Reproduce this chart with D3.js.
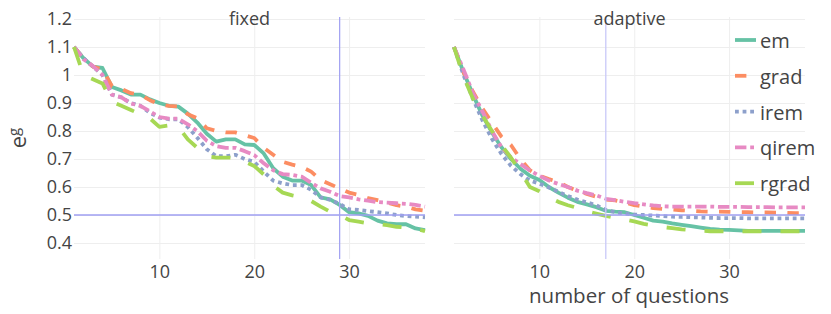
<!DOCTYPE html>
<html>
<head>
<meta charset="utf-8">
<script src="https://cdn.jsdelivr.net/npm/d3@7"></script>
<style>
  body { margin: 0; background: #fff; }
  text { font-family: "Open Sans", sans-serif; fill: #444; }
</style>
</head>
<body>
<div class="canvas"></div>
<script>
// data
const questions = [1, 2, 3, 4, 5, 6, 7, 8, 9, 10, 11, 12, 13, 14, 15, 16, 17, 18, 19, 20,
    21, 22, 23, 24, 25, 26, 27, 28, 29, 30, 31, 32, 33, 34, 35, 36, 37, 38];
const methods = ['em', 'grad', 'irem', 'qirem', 'rgrad'];
const panelNames = ['fixed', 'adaptive'];
const cutoffs = [29, 17];
const threshold = 0.5;
const yTicks = [0.4, 0.5, 0.6, 0.7, 0.8, 0.9, 1, 1.1, 1.2];
const xTicks = [10, 20, 30];

const fixedEm = [1.1, 1.06, 1.03, 1.025, 0.957, 0.945, 0.93, 0.93, 0.913, 0.9, 0.89, 0.887, 0.862, 0.83,
    0.79, 0.762, 0.77, 0.77, 0.752, 0.75, 0.72, 0.667, 0.637, 0.623, 0.623, 0.607, 0.563, 0.556, 0.536,
    0.51, 0.506, 0.497, 0.48, 0.47, 0.467, 0.467, 0.452, 0.446];
const fixedGrad = [1.1, 1.06, 1.03, 1.02, 0.96, 0.95, 0.935, 0.93, 0.91, 0.895, 0.89, 0.888, 0.86, 0.845,
    0.81, 0.8, 0.795, 0.795, 0.785, 0.775, 0.74, 0.715, 0.69, 0.68, 0.672, 0.655, 0.625, 0.61, 0.595,
    0.58, 0.572, 0.56, 0.553, 0.545, 0.535, 0.53, 0.52, 0.515];
const fixedIrem = [1.1, 1.06, 1.03, 1.0, 0.93, 0.92, 0.9, 0.89, 0.865, 0.848, 0.842, 0.842, 0.814, 0.776,
    0.735, 0.71, 0.71, 0.715, 0.7, 0.69, 0.655, 0.623, 0.613, 0.607, 0.607, 0.59, 0.563, 0.554, 0.54,
    0.52, 0.518, 0.514, 0.51, 0.506, 0.5, 0.496, 0.494, 0.492];
const fixedQirem = [1.1, 1.056, 1.032, 1.0, 0.93, 0.92, 0.898, 0.89, 0.87, 0.85, 0.844, 0.844, 0.824, 0.8,
    0.765, 0.746, 0.74, 0.74, 0.728, 0.714, 0.685, 0.66, 0.646, 0.643, 0.637, 0.615, 0.595, 0.583, 0.568,
    0.563, 0.556, 0.551, 0.546, 0.544, 0.542, 0.54, 0.536, 0.53];
const fixedRgrad = [1.1, 1.0, 0.985, 0.97, 0.905, 0.89, 0.875, 0.86, 0.845, 0.815, 0.82, 0.815, 0.77, 0.74,
    0.71, 0.705, 0.705, 0.705, 0.69, 0.675, 0.645, 0.605, 0.58, 0.57, 0.563, 0.55, 0.53, 0.512, 0.5,
    0.482, 0.476, 0.47, 0.468, 0.464, 0.458, 0.455, 0.452, 0.442];

const adaptiveEm = [1.1, 1.01, 0.93, 0.855, 0.795, 0.742, 0.7, 0.665, 0.64, 0.625, 0.6, 0.58, 0.562, 0.547,
    0.538, 0.528, 0.515, 0.512, 0.51, 0.5, 0.49, 0.48, 0.476, 0.47, 0.465, 0.46, 0.455, 0.45, 0.448,
    0.447, 0.445, 0.443, 0.443, 0.443, 0.443, 0.443, 0.443, 0.443];
const adaptiveGrad = [1.1, 1.01, 0.94, 0.88, 0.83, 0.78, 0.75, 0.7, 0.66, 0.64, 0.628, 0.618, 0.6, 0.587,
    0.575, 0.565, 0.555, 0.552, 0.545, 0.535, 0.53, 0.525, 0.522, 0.52, 0.517, 0.515, 0.513, 0.512, 0.512,
    0.511, 0.51, 0.51, 0.509, 0.509, 0.508, 0.508, 0.507, 0.507];
const adaptiveIrem = [1.1, 1.0, 0.915, 0.838, 0.772, 0.718, 0.676, 0.646, 0.623, 0.612, 0.598, 0.583, 0.568,
    0.555, 0.545, 0.535, 0.518, 0.51, 0.505, 0.502, 0.5, 0.498, 0.496, 0.494, 0.493, 0.492, 0.491, 0.49,
    0.489, 0.489, 0.489, 0.488, 0.488, 0.488, 0.488, 0.488, 0.488, 0.488];
const adaptiveQirem = [1.1, 1.02, 0.935, 0.87, 0.8, 0.742, 0.706, 0.682, 0.659, 0.64, 0.623, 0.611, 0.6,
    0.587, 0.578, 0.57, 0.558, 0.553, 0.547, 0.542, 0.538, 0.534, 0.531, 0.53, 0.53, 0.53, 0.53, 0.53,
    0.529, 0.529, 0.529, 0.528, 0.528, 0.528, 0.527, 0.527, 0.527, 0.527];
const adaptiveRgrad = [1.1, 0.995, 0.915, 0.855, 0.8, 0.75, 0.705, 0.655, 0.6, 0.585, 0.563, 0.547, 0.535,
    0.525, 0.513, 0.505, 0.497, 0.49, 0.484, 0.477, 0.468, 0.462, 0.457, 0.453, 0.449, 0.446, 0.444, 0.442,
    0.442, 0.442, 0.442, 0.442, 0.442, 0.442, 0.442, 0.442, 0.442, 0.442];

const panelSeries = [
    [fixedEm, fixedGrad, fixedIrem, fixedQirem, fixedRgrad],
    [adaptiveEm, adaptiveGrad, adaptiveIrem, adaptiveQirem, adaptiveRgrad]
];

// styling
const dimensions = { width: 831, height: 314, top: 17, bottom: 259 };
const panelRanges = [[74, 425], [454, 805]];
const cutoffColors = ['#a4a4f2', '#c9c9f8'];
const colors = ['#66c2a5', '#fc8d62', '#8da0cb', '#e78ac3', '#a6d854'];
const lw = 3.8;
const dashes = ['none', `${3 * lw},${3 * lw}`, `${lw},${lw}`, `${3 * lw},${lw},${lw},${lw}`, `${5 * lw},${5 * lw}`];

const svg = d3.select('.canvas')
    .append('svg')
    .attr('width', dimensions.width)
    .attr('height', dimensions.height);

const y = d3.scaleLinear()
    .domain([0.4, 1.2])
    .range([243, 19]);

panelNames.forEach((name, p) => {
    const x = d3.scaleLinear()
        .domain([1, 38])
        .range(panelRanges[p]);
    const [left, right] = panelRanges[p];
    const graph = svg.append('g');

    // gridlines + tick labels
    const xAxis = graph.append('g')
        .attr('transform', `translate(0, ${dimensions.bottom})`)
        .call(d3.axisBottom(x).tickValues(xTicks).tickSize(-(dimensions.bottom - dimensions.top)).tickPadding(6));
    xAxis.select('.domain').remove();
    xAxis.selectAll('line').attr('stroke', '#eee');
    xAxis.selectAll('text').attr('font-size', 18).attr('fill', '#444');

    const yAxis = graph.append('g')
        .attr('transform', `translate(${left}, 0)`)
        .call(d3.axisLeft(y).tickValues(yTicks).tickSize(-(right - left)).tickPadding(2).tickFormat(d => String(d)));
    yAxis.select('.domain').remove();
    yAxis.selectAll('line').attr('stroke', '#eee');
    yAxis.selectAll('text').attr('font-size', 18).attr('fill', '#444');
    if (p > 0) yAxis.selectAll('text').remove();

    // series lines
    const line = d3.line()
        .x((d, i) => x(questions[i]))
        .y(d => y(d));

    graph.selectAll('path.series')
        .data(panelSeries[p])
        .enter()
        .append('path')
        .attr('class', 'series')
        .attr('d', line)
        .attr('fill', 'none')
        .attr('stroke', (d, i) => colors[i])
        .attr('stroke-width', lw)
        .attr('stroke-dasharray', (d, i) => dashes[i])
        .attr('stroke-linejoin', 'round');

    // reference lines
    graph.append('line')
        .attr('x1', left).attr('x2', right)
        .attr('y1', y(threshold)).attr('y2', y(threshold))
        .attr('stroke', '#9f9ff2')
        .attr('stroke-width', 1.6);

    graph.append('line')
        .attr('x1', x(cutoffs[p])).attr('x2', x(cutoffs[p]))
        .attr('y1', dimensions.top).attr('y2', dimensions.bottom)
        .attr('stroke', cutoffColors[p])
        .attr('stroke-width', 1.3);

    // panel title
    svg.append('text')
        .attr('x', (left + right) / 2)
        .attr('y', 25)
        .attr('text-anchor', 'middle')
        .attr('font-size', 18)
        .text(name);
});

// axis titles
svg.append('text')
    .attr('x', 629)
    .attr('y', 303)
    .attr('text-anchor', 'middle')
    .attr('font-size', 20.5)
    .text('number of questions');

const yTitle = svg.append('text')
    .attr('transform', 'translate(26, 138) rotate(-90)')
    .attr('text-anchor', 'middle')
    .attr('font-size', 22);
yTitle.append('tspan').text('e');
yTitle.append('tspan').attr('dy', '-0.5em').attr('font-size', 15).text('g');

// legend
const legendGroup = svg.append('g')
    .attr('transform', 'translate(735, 40)');

const items = legendGroup.selectAll('g')
    .data(methods)
    .enter()
    .append('g')
    .attr('transform', (d, i) => `translate(0, ${i * 35.8})`);

items.append('line')
    .attr('x1', 0).attr('x2', 21)
    .attr('stroke', (d, i) => colors[i])
    .attr('stroke-width', lw)
    .attr('stroke-dasharray', (d, i) => dashes[i]);

items.append('text')
    .attr('x', 25)
    .attr('y', 8)
    .attr('font-size', 20)
    .text(d => d);
</script>
</body>
</html>
